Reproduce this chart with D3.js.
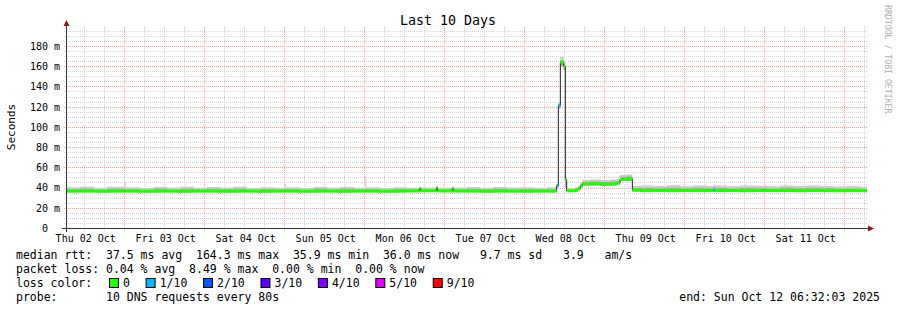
<!DOCTYPE html>
<html><head><meta charset="utf-8">
<script src="https://cdn.jsdelivr.net/npm/d3@7"></script>
<style>
html,body{margin:0;padding:0;background:#fff;}
svg{display:block;}
text{font-family:"DejaVu Sans Mono",monospace;}
</style></head>
<body>
<script>
// ---------------- data ----------------
const startTime = "2025-10-02T06:32:03Z";
const endTime   = "2025-10-12T06:32:03Z";
// sample times in hours after start; each sample holds until the next one
const hours   = [0,4,8,12,17.3,17.6,22,26,30,34,38,42,46,50,54,58,62,65.3,65.6,70,74,78,82,86,89.5,89.8,94,98,102,105.8,106.2,110.8,111.2,115.5,115.9,120,124,128,132,136,140,144,
                 146.9,147.4,148.0,149.0,149.5,149.9,152.5,153.3,154.0,154.6,157,160,163,165.0,165.9,168,169.6,
                 172,176,180,184,188,192,194.0,194.4,198,202,206,210,214,218,222,226,230,234,238];
// median rtt (ms)
const median  = [36.4,36.4,36.3,36.4,36.4,36.4,36.3,36.4,36.4,36.3,36.4,36.4,36.3,36.4,36.4,36.3,36.4,36.4,36.4,36.3,36.4,36.4,36.3,36.4,36.4,36.4,36.3,36.4,36.6,39.0,36.8,39.5,36.6,39.0,36.5,36.4,36.3,36.4,36.4,36.3,36.4,36.4,
                 42,121,164,160,48,36.8,37.5,39,41.5,43.5,43.8,43.2,43.6,44.5,48,48.5,37.5,
                 36.9,37.0,36.8,37.0,36.9,37.0,37.5,36.9,37.0,36.8,37.0,36.9,37.0,36.8,37.0,36.9,36.8,36.9,36.8];
// smoke: lowest ping, a middle ping and highest ping (ms)
const smokeLo = [35.9,35.9,35.9,35.9,35.9,35.9,35.9,35.9,35.9,35.9,35.9,35.9,35.9,35.9,35.9,35.9,35.9,35.9,35.9,35.9,35.9,35.9,35.9,35.9,35.9,35.9,35.9,35.9,35.9,36.0,35.9,36.0,35.9,36.0,35.9,35.9,35.9,35.9,35.9,35.9,35.9,35.9,
                 40,118,160,156,40,35.9,36,37,39.5,42,42,42,42,43,46.5,46.5,36,
                 35.9,35.9,35.9,35.9,35.9,35.9,36,35.9,35.9,35.9,35.9,35.9,35.9,35.9,35.9,35.9,35.9,35.9,35.9];
const smokeMid = [38.3,38.8,38.0,38.9,38.6,38.4,37.9,38.7,38.2,38.9,38.0,38.7,38.3,38.9,37.9,38.5,38.0,38.6,38.4,37.9,38.7,38.2,38.7,38.0,38.5,38.4,37.9,38.5,38.0,40.0,38.2,40.5,38.0,40.0,38.2,38.7,38.0,38.7,38.2,38.5,38.0,38.4,
                 43,122,166,162,49,37.8,39,40.5,43.5,45.5,46,45.5,46,46.5,50.5,51,39.5,
                 39.5,39.2,39.8,39.0,39.6,39.2,40.5,39.6,39.0,39.6,39.4,39.0,39.7,39.2,39.6,39.2,38.8,39.0,38.6];
const smokeHi = [40.3,40.8,39.8,40.8,46.0,40.3,39.6,40.6,40.0,40.8,39.8,40.6,40.1,40.8,39.6,40.4,39.8,43.5,40.3,39.6,40.6,40.0,40.6,39.8,51.0,40.3,39.6,40.4,39.8,40.8,40.0,41.8,39.8,41.0,40.0,40.6,39.8,40.6,40.0,40.4,39.8,40.3,
                 44,124,169,166,50,39.0,40.5,42,45,47.5,48,47.5,48,48.5,52.5,53,41.5,
                 42,41.5,42.3,41.3,42,41.5,43,42,41.3,42,41.7,41.3,42,41.5,42,41.5,41,41.3,40.8];
// lost packets out of 10
const loss    = [0,0,0,0,0,0,0,0,0,0,0,0,0,0,0,0,0,0,0,0,0,0,0,0,0,0,0,0,0,0,0,0,0,0,0,0,0,0,0,0,0,0,
                 1,1,0,0,0,0,0,0,0,0,0,0,0,0,0,0,0,
                 0,0,0,0,0,0,1,0,0,0,0,0,0,0,0,0,0,0,0];
const yTicks = [0,0.02,0.04,0.06,0.08,0.10,0.12,0.14,0.16,0.18];
const lossLevels = ["0","1/10","2/10","3/10","4/10","5/10","9/10"];
const lossColors = ["#26ff00","#00b8ff","#0059ff","#5e00ff","#7e00ff","#dd00ff","#ff0000"];
const lossIndex = {0:0,1:1,2:2,3:3,4:4,5:5,9:6};
const titleText = "Last 10 Days";
const yLabel = "Seconds";
const legendLines = [
  "median rtt:  37.5 ms avg  164.3 ms max  35.9 ms min  36.0 ms now   9.7 ms sd   3.9   am/s",
  "packet loss: 0.04 % avg  8.49 % max  0.00 % min  0.00 % now"
];
const probeText = "probe:       10 DNS requests every 80s";
const endText = "end: Sun Oct 12 06:32:03 2025";
const watermark = "RRDTOOL / TOBI OETIKER";

// ---------------- chart ----------------
const W = 897, H = 310;
const svg = d3.select("body").append("svg").attr("width", W).attr("height", H);
const t0 = new Date(startTime), t1 = new Date(endTime);
const toDate = h => new Date(t0.getTime() + h * 3600e3);

const x = d3.scaleUtc().domain([t0, t1]).range([67, 867]);
const y = d3.scaleLinear().domain([0, 0.1978]).range([228, 28]);

// grid
const grid = svg.append("g");
const minorY = d3.range(0, 0.1976, 0.005).filter(v => Math.round(v * 1000) % 20 !== 0);
grid.selectAll(".hmin").data(minorY).join("line")
  .attr("x1", 64).attr("x2", 868)
  .attr("y1", d => Math.round(y(d)) + 0.5).attr("y2", d => Math.round(y(d)) + 0.5)
  .attr("stroke", "#d4d4d4").attr("stroke-dasharray", "1,1");
const hoursGrid = d3.utcHour.every(6).range(t0, t1).filter(d => d.getUTCHours() !== 0);
grid.selectAll(".vmin").data(hoursGrid).join("line")
  .attr("x1", d => Math.round(x(d)) - 0.5).attr("x2", d => Math.round(x(d)) - 0.5)
  .attr("y1", 26).attr("y2", 231)
  .attr("stroke", "#d4d4d4").attr("stroke-dasharray", "1,1");
grid.selectAll(".hmaj").data(yTicks.slice(1)).join("line")
  .attr("x1", 64).attr("x2", 868)
  .attr("y1", d => Math.round(y(d)) + 0.5).attr("y2", d => Math.round(y(d)) + 0.5)
  .attr("stroke", "#f6a0a0").attr("stroke-dasharray", "1,1");
grid.selectAll(".vmaj").data(d3.utcDay.range(t0, t1)).join("line")
  .attr("x1", d => Math.round(x(d)) - 0.5).attr("x2", d => Math.round(x(d)) - 0.5)
  .attr("y1", 26).attr("y2", 231)
  .attr("stroke", "#f6a0a0").attr("stroke-dasharray", "1,1");

// samples
const samples = hours.map((h, i) => ({
  t: toDate(h), t2: toDate(i + 1 < hours.length ? hours[i + 1] : 240),
  m: median[i] / 1000, lo: smokeLo[i] / 1000, mid: smokeMid[i] / 1000, hi: smokeHi[i] / 1000, loss: loss[i]
}));
const last = samples[samples.length - 1];
const ext = samples.concat([Object.assign({}, last, { t: t1 })]);

// smoke
svg.append("path").datum(ext)
  .attr("d", d3.area().curve(d3.curveStepAfter).x(d => x(d.t)).y0(d => y(d.lo)).y1(d => y(d.hi)))
  .attr("fill", "#cbcbcb");
svg.append("path").datum(ext)
  .attr("d", d3.area().curve(d3.curveStepAfter).x(d => x(d.t)).y0(d => y(d.lo)).y1(d => y(d.mid)))
  .attr("fill", "#a9a9a9");
// median black line
svg.append("path").datum(ext)
  .attr("d", d3.line().curve(d3.curveStepAfter).x(d => x(d.t)).y(d => y(d.m)))
  .attr("fill", "none").attr("stroke", "#202020").attr("stroke-width", 1);
// loss-coloured median
svg.append("g").selectAll("line").data(samples).join("line")
  .attr("x1", d => x(d.t)).attr("x2", d => x(d.t2))
  .attr("y1", d => y(d.m)).attr("y2", d => y(d.m))
  .attr("stroke", d => lossColors[lossIndex[d.loss]]).attr("stroke-width", 3);

// axes lines
svg.append("line").attr("x1", 62).attr("x2", 868).attr("y1", 228.5).attr("y2", 228.5).attr("stroke", "#333");
svg.append("line").attr("x1", 66.5).attr("x2", 66.5).attr("y1", 232).attr("y2", 25).attr("stroke", "#333");
svg.append("path").attr("d", "M868,225.5 L874,228.5 L868,231.5 Z").attr("fill", "#8b1a1a");
svg.append("path").attr("d", "M63.5,26 L66.5,20 L69.5,26 Z").attr("fill", "#8b1a1a");

// y axis labels
const yAxis = d3.axisLeft(y).tickValues(yTicks).tickSize(0).tickPadding(0)
  .tickFormat(d => d === 0 ? "0  " : Math.round(d * 1000) + " m");
const gy = svg.append("g").attr("transform", "translate(60,0)").call(yAxis);
gy.select(".domain").remove();
gy.selectAll("text").attr("font-family", "DejaVu Sans Mono").attr("font-size", 10).attr("fill", "#000")
  .attr("dy", "0.34em").attr("xml:space", "preserve").style("white-space", "pre");

// x axis labels
const noon = d3.utcDay.range(d3.utcDay.floor(t0), t1).map(d => d3.utcHour.offset(d, 12)).filter(d => d > t0 && d < t1);
const xAxis = d3.axisBottom(x).tickValues(noon).tickSize(0).tickPadding(0).tickFormat(d3.utcFormat("%a %d %b"));
const gx = svg.append("g").attr("transform", "translate(0,235)").call(xAxis);
gx.select(".domain").remove();
gx.selectAll("text").attr("font-family", "DejaVu Sans Mono").attr("font-size", 10).attr("fill", "#000").attr("dy", "0.71em");

// title
svg.append("text").attr("x", 448).attr("y", 24.5).attr("text-anchor", "middle")
  .attr("font-size", 13.3).text(titleText);
// y label
svg.append("text").attr("transform", "translate(15,127) rotate(-90)").attr("text-anchor", "middle")
  .attr("font-size", 11).text(yLabel);
// watermark
svg.append("text").attr("transform", "translate(884.5,5) rotate(90)").attr("text-anchor", "start")
  .attr("font-size", 8.2).attr("fill", "#b0b0b0").text(watermark);

// legend
const lg = svg.append("g").attr("font-size", 11.5).attr("fill", "#000");
legendLines.forEach((s, i) => {
  lg.append("text").attr("x", 16).attr("y", 258.5 + i * 14).attr("xml:space", "preserve")
    .style("white-space", "pre").text(s);
});
lg.append("text").attr("x", 16).attr("y", 286.5).text("loss color:");
let cx = 109;
const cw = 6.93;
lossLevels.forEach((lab, i) => {
  lg.append("rect").attr("x", cx + 0.5).attr("y", 278.5).attr("width", 9).attr("height", 9)
    .attr("fill", lossColors[i]).attr("stroke", "#000").attr("stroke-width", 1);
  lg.append("text").attr("x", cx + 14).attr("y", 286.5).text(lab);
  cx += 14 + lab.length * cw + 15.7;
});
lg.append("text").attr("x", 16).attr("y", 300.5).attr("xml:space", "preserve").style("white-space", "pre").text(probeText);
lg.append("text").attr("x", 880).attr("y", 300.5).attr("text-anchor", "end").text(endText);
</script>
</body></html>
